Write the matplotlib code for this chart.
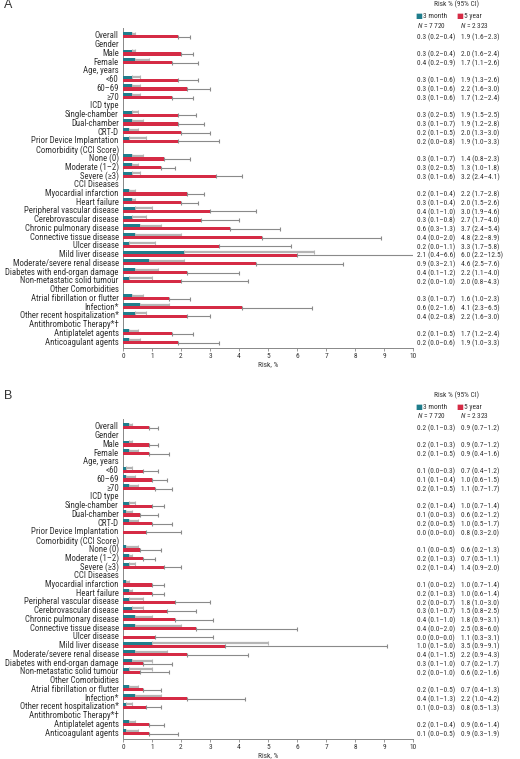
import numpy as np
import matplotlib
matplotlib.use('Agg')
import matplotlib.pyplot as plt
from matplotlib import font_manager
from matplotlib.transforms import blended_transform_factory

names = {f.name for f in font_manager.fontManager.ttflist}
if 'Roboto Condensed' in names:
    plt.rcParams['font.family'] = ['Roboto Condensed', 'DejaVu Sans']
    lab_fs, tab_fs = 6.3, 5.3
else:
    plt.rcParams['font.family'] = ['Liberation Sans', 'DejaVu Sans']
    lab_fs, tab_fs = 5.7, 4.8
plt.rcParams['mathtext.fontset'] = 'custom'
plt.rcParams['mathtext.rm'] = plt.rcParams['font.family'][0]
plt.rcParams['mathtext.it'] = plt.rcParams['font.family'][0] + ':italic'

labels = ['Overall', 'Gender', 'Male', 'Female', 'Age, years', '<60', '60–69', '≥70',
          'ICD type', 'Single-chamber', 'Dual-chamber', 'CRT-D', 'Prior Device Implantation',
          'Comorbidity (CCI Score)', 'None (0)', 'Moderate (1–2)', 'Severe (≥3)',
          'CCI Diseases', 'Myocardial infarction', 'Heart failure',
          'Peripheral vascular disease', 'Cerebrovascular disease', 'Chronic pulmonary disease',
          'Connective tissue disease', 'Ulcer disease', 'Mild liver disease',
          'Moderate/severe renal disease', 'Diabetes with end-organ damage',
          'Non-metastatic solid tumour', 'Other Comorbidities', 'Atrial fibrillation or flutter',
          'Infection*', 'Other recent hospitalization*',
          'Antithrombotic Therapy*†', 'Antiplatelet agents', 'Anticoagulant agents']

nan = np.nan
# panel A (3 month / 5 year): value, lower, upper
a_3m = [0.3, nan, 0.3, 0.4, nan, 0.3, 0.3, 0.3, nan, 0.3, 0.3, 0.2, 0.2, nan, 0.3, 0.3, 0.3,
        nan, 0.2, 0.3, 0.4, 0.3, 0.6, 0.4, 0.2, 2.1, 0.9, 0.4, 0.2, nan, 0.3, 0.6, 0.4, nan, 0.2, 0.2]
a_3m_lo = [0.2, nan, 0.2, 0.2, nan, 0.1, 0.1, 0.1, nan, 0.2, 0.1, 0.1, 0.0, nan, 0.1, 0.2, 0.1,
           nan, 0.1, 0.1, 0.1, 0.1, 0.3, 0.0, 0.0, 0.4, 0.3, 0.1, 0.0, nan, 0.1, 0.2, 0.2, nan, 0.1, 0.0]
a_3m_hi = [0.4, nan, 0.4, 0.9, nan, 0.6, 0.6, 0.6, nan, 0.5, 0.7, 0.5, 0.8, nan, 0.7, 0.5, 0.6,
           nan, 0.4, 0.4, 1.0, 0.8, 1.3, 2.0, 1.1, 6.6, 2.1, 1.2, 1.0, nan, 0.7, 1.6, 0.8, nan, 0.5, 0.6]
a_5y = [1.9, nan, 2.0, 1.7, nan, 1.9, 2.2, 1.7, nan, 1.9, 1.9, 2.0, 1.9, nan, 1.4, 1.3, 3.2,
        nan, 2.2, 2.0, 3.0, 2.7, 3.7, 4.8, 3.3, 6.0, 4.6, 2.2, 2.0, nan, 1.6, 4.1, 2.2, nan, 1.7, 1.9]
a_5y_lo = [1.6, nan, 1.6, 1.1, nan, 1.3, 1.6, 1.2, nan, 1.5, 1.2, 1.3, 1.0, nan, 0.8, 1.0, 2.4,
           nan, 1.7, 1.5, 1.9, 1.7, 2.4, 2.2, 1.7, 2.2, 2.5, 1.1, 0.8, nan, 1.0, 2.3, 1.6, nan, 1.2, 1.0]
a_5y_hi = [2.3, nan, 2.4, 2.6, nan, 2.6, 3.0, 2.4, nan, 2.5, 2.8, 3.0, 3.3, nan, 2.3, 1.8, 4.1,
           nan, 2.8, 2.6, 4.6, 4.0, 5.4, 8.9, 5.8, 12.5, 7.6, 4.0, 4.3, nan, 2.3, 6.5, 3.0, nan, 2.4, 3.3]

# panel B
b_3m = [0.2, nan, 0.2, 0.2, nan, 0.1, 0.1, 0.2, nan, 0.2, 0.1, 0.2, 0.0, nan, 0.1, 0.2, 0.2,
        nan, 0.1, 0.2, 0.2, 0.3, 0.4, 0.4, 0.0, 1.0, 0.4, 0.3, 0.2, nan, 0.2, 0.4, 0.1, nan, 0.2, 0.1]
b_3m_lo = [0.1, nan, 0.1, 0.1, nan, 0.0, 0.1, 0.1, nan, 0.1, 0.0, 0.0, 0.0, nan, 0.0, 0.1, 0.1,
           nan, 0.0, 0.1, 0.0, 0.1, 0.1, 0.0, 0.0, 0.1, 0.1, 0.1, 0.0, nan, 0.1, 0.1, 0.0, nan, 0.1, 0.0]
b_3m_hi = [0.3, nan, 0.3, 0.5, nan, 0.3, 0.4, 0.5, nan, 0.4, 0.3, 0.5, 0.0, nan, 0.5, 0.3, 0.4,
           nan, 0.2, 0.3, 0.7, 0.7, 1.0, 2.0, 0.0, 5.0, 1.5, 1.0, 1.0, nan, 0.5, 1.3, 0.3, nan, 0.4, 0.5]
b_5y = [0.9, nan, 0.9, 0.9, nan, 0.7, 1.0, 1.1, nan, 1.0, 0.6, 1.0, 0.8, nan, 0.6, 0.7, 1.4,
        nan, 1.0, 1.0, 1.8, 1.5, 1.8, 2.5, 1.1, 3.5, 2.2, 0.7, 0.6, nan, 0.7, 2.2, 0.8, nan, 0.9, 0.9]
b_5y_lo = [0.7, nan, 0.7, 0.4, nan, 0.4, 0.6, 0.7, nan, 0.7, 0.2, 0.5, 0.3, nan, 0.2, 0.5, 0.9,
           nan, 0.7, 0.6, 1.0, 0.8, 0.9, 0.8, 0.3, 0.9, 0.9, 0.2, 0.2, nan, 0.4, 1.0, 0.5, nan, 0.6, 0.3]
b_5y_hi = [1.2, nan, 1.2, 1.6, nan, 1.2, 1.5, 1.7, nan, 1.4, 1.2, 1.7, 2.0, nan, 1.3, 1.1, 2.0,
           nan, 1.4, 1.4, 3.0, 2.5, 3.1, 6.0, 3.1, 9.1, 4.3, 1.7, 1.6, nan, 1.3, 4.2, 1.3, nan, 1.4, 1.9]

n_3m = '7 720'
n_5y = '2 323'

teal = '#1f7d8c'
red = '#d52b45'
txt = '#333333'

W, H = 520, 759
fig = plt.figure(figsize=(W / 100, H / 100), dpi=100)


def panel(top, letter, v3, l3, h3, v5, l5, h5):
    # axes placed in pixel units (top of plotting area, rows 8.74 px apart)
    ax = fig.add_axes([123 / W, 1 - (top + 320) / H, 290 / W, 320 / H])
    rows = np.arange(len(labels))
    v3, l3, h3 = np.array(v3), np.array(l3), np.array(h3)
    v5, l5, h5 = np.array(v5), np.array(l5), np.array(h5)
    ok = ~np.isnan(v3)

    ax.barh(rows[ok] - 0.17, v3[ok], height=0.34, color=teal, zorder=3)
    ax.barh(rows[ok] + 0.18, v5[ok], height=0.36, color=red, zorder=3)

    m = ok & (h3 > v3)
    ax.errorbar(v3[m], rows[m] - 0.17, xerr=[np.zeros(m.sum()), h3[m] - v3[m]],
                fmt='none', ecolor='#b5b5b5', elinewidth=1.6, capsize=1.1, capthick=0.8, zorder=2)
    ax.errorbar(v5[ok], rows[ok] + 0.18, xerr=[np.zeros(ok.sum()), h5[ok] - v5[ok]],
                fmt='none', ecolor='#8a8a8a', elinewidth=0.8, capsize=1.1, capthick=0.8, zorder=2)

    ax.set_xlim(0, 10)
    ax.set_ylim(35.8, -0.8)
    ax.set_xticks(range(11))
    ax.set_yticks(rows)
    ax.set_yticklabels(labels, fontsize=lab_fs, color=txt)
    ax.tick_params(axis='y', length=0, pad=3)
    ax.tick_params(axis='x', length=2.5, width=0.6, color='#888888', labelsize=tab_fs,
                   labelcolor=txt, pad=1.2)
    for s in ['top', 'right']:
        ax.spines[s].set_visible(False)
    for s in ['left', 'bottom']:
        ax.spines[s].set_color('#888888')
        ax.spines[s].set_linewidth(0.7)
    ax.set_xlabel('Risk, %', fontsize=tab_fs, color=txt, labelpad=1)

    tr = blended_transform_factory(ax.transAxes, ax.transData)
    for i in rows[ok]:
        ax.text(1.014, i + 0.25, '%.1f (%.1f–%.1f)' % (v3[i], l3[i], h3[i]), transform=tr,
                fontsize=tab_fs, color=txt, va='center', ha='left')
        ax.text(1.166, i + 0.25, '%.1f (%.1f–%.1f)' % (v5[i], l5[i], h5[i]), transform=tr,
                fontsize=tab_fs, color=txt, va='center', ha='left')

    # header block above the table
    def ft(x, y, s, c=txt, **kw):
        fig.text(x / W, 1 - y / H, s, va='center', fontsize=tab_fs, color=c, **kw)
    ft(457, top - 24, 'Risk % (95% CI)', ha='center')
    ft(415, top - 12, '■', c=teal, ha='left', family='DejaVu Sans')
    ft(423, top - 12, '3 month', ha='left')
    ft(456, top - 12, '■', c=red, ha='left', family='DejaVu Sans')
    ft(464, top - 12, '5 year', ha='left')
    ft(417, top - 3, r'$\it{N}$' + ' = ' + n_3m, ha='left')
    ft(460, top - 3, r'$\it{N}$' + ' = ' + n_5y, ha='left')
    fig.text(4 / W, 1 - (top - 23) / H, letter, fontsize=9, color=txt, va='center', ha='left',
             family='Liberation Sans')
    return ax


panel(28, 'A', a_3m, a_3m_lo, a_3m_hi, a_5y, a_5y_lo, a_5y_hi)
panel(419, 'B', b_3m, b_3m_lo, b_3m_hi, b_5y, b_5y_lo, b_5y_hi)

fig.savefig('out.png', dpi=100)
